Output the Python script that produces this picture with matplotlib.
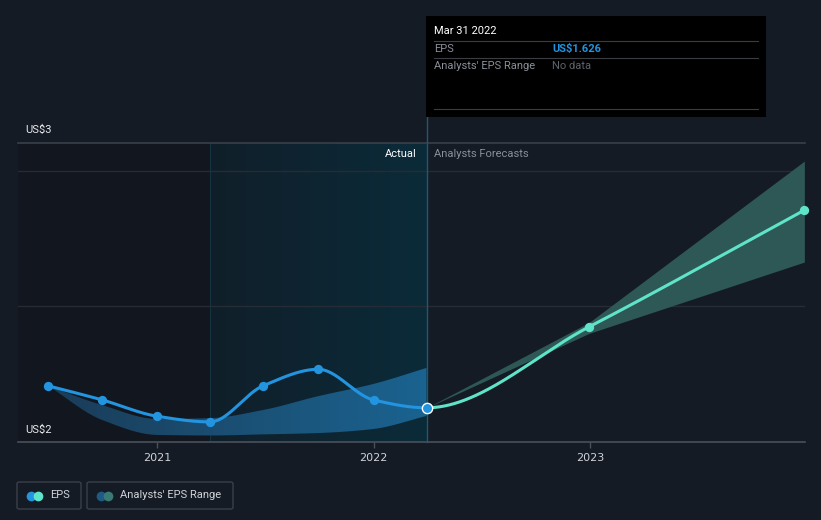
import numpy as np
import matplotlib
matplotlib.use("Agg")
import matplotlib.pyplot as plt
from matplotlib.patches import Rectangle, FancyBboxPatch
from matplotlib.colors import LinearSegmentedColormap

# ---------------- data ----------------
eps_dates = [2020.497, 2020.747, 2021.0, 2021.245, 2021.49, 2021.745, 2022.0, 2022.245]
eps_values = [1.707, 1.655, 1.595, 1.574, 1.707, 1.768, 1.655, 1.626]

past_range_dates = [2020.497, 2020.747, 2021.0, 2021.245, 2021.49, 2021.745, 2022.0, 2022.245]
past_range_high = [1.707, 1.636, 1.585, 1.588, 1.618, 1.669, 1.714, 1.773]
past_range_low = [1.707, 1.581, 1.526, 1.524, 1.528, 1.533, 1.548, 1.596]

fc_dates = [2022.245, 2022.995, 2023.99]
fc_values = [1.626, 1.924, 2.354]
fc_high = [1.626, 1.94, 2.535]
fc_low = [1.626, 1.90, 2.163]

year_ticks = [2021, 2022, 2023]
year_labels = ["2021", "2022", "2023"]
y_top_label = "US$3"
y_bottom_label = "US$2"

# ---------------- helpers ----------------
def monotone(xs, ys, n=200):
    x = np.asarray(xs, float); y = np.asarray(ys, float)
    h = np.diff(x); d = np.diff(y) / h
    m = np.zeros_like(y)
    for i in range(1, len(y) - 1):
        if d[i - 1] * d[i] <= 0:
            m[i] = 0
        else:
            w1 = 2 * h[i] + h[i - 1]; w2 = h[i] + 2 * h[i - 1]
            m[i] = (w1 + w2) / (w1 / d[i - 1] + w2 / d[i])
    m[0] = d[0]; m[-1] = d[-1]
    xo, yo = [], []
    for i in range(len(x) - 1):
        t = np.linspace(0, 1, n, endpoint=(i == len(x) - 2))
        h00 = 2*t**3 - 3*t**2 + 1; h10 = t**3 - 2*t**2 + t
        h01 = -2*t**3 + 3*t**2; h11 = t**3 - t**2
        xo.append(x[i] + t * h[i])
        yo.append(h00*y[i] + h10*h[i]*m[i] + h01*y[i+1] + h11*h[i]*m[i+1])
    return np.concatenate(xo), np.concatenate(yo)

BG = "#151b25"
W, H = 821, 520
fig = plt.figure(figsize=(W/100, H/100), dpi=100, facecolor=BG)
L, R, B, T = 18, 805, 442, 143
ax = fig.add_axes([L/W, 1 - B/H, (R-L)/W, (B-T)/H])
ax.set_facecolor(BG)
x0 = 2021 + (L - 157) / 216.5
x1 = 2021 + (R - 157) / 216.5
ax.set_xlim(x0, x1)
ax.set_ylim(1.5, 1.5 + (B - T) / 271.4)
for s in ax.spines.values():
    s.set_visible(False)

x_split0 = past_range_dates[3]
x_now = eps_dates[-1]

# darker past region
ax.axvspan(x0, x_split0, color="#12161e", zorder=0, lw=0)
# highlight gradient region
grad = np.linspace(0, 1, 256).reshape(1, -1)
cm_hl = LinearSegmentedColormap.from_list("hl", ["#101f2a", "#0b2b39"])
ax.imshow(grad, extent=[x_split0, x_now, 1.5, ax.get_ylim()[1]], aspect="auto",
          cmap=cm_hl, zorder=0.5)
ax.axvline(x_split0, color="#17323f", lw=0.8, zorder=0.6)

# grid lines
for v in [2.0, 2.5]:
    ax.axhline(v, color="#262c36", lw=1, zorder=1)
ax.axhline(ax.get_ylim()[1], color="#3a404a", lw=1.2, zorder=1, clip_on=False)
ax.axhline(1.5, color="#4a505a", lw=1.2, zorder=1, clip_on=False)

# past range band with gradient
px, ph = monotone(past_range_dates, past_range_high)
_, pl = monotone(past_range_dates, past_range_low)
poly = ax.fill_between(px, pl, ph, color="none", lw=0)
cm_band = LinearSegmentedColormap.from_list("band", ["#1a3c58", "#1a6390"])
im = ax.imshow(grad, extent=[past_range_dates[0], x_now, 1.5, 1.8], aspect="auto",
               cmap=cm_band, zorder=2)
im.set_clip_path(poly.get_paths()[0], transform=ax.transData)

# forecast band
ax.fill_between(fc_dates, fc_low, fc_high, color="#2e5856", lw=0, zorder=2)

# EPS + forecast as one smooth curve, split at "now"
all_x = eps_dates + fc_dates[1:]
all_y = eps_values + fc_values[1:]
cx, cy = monotone(all_x, all_y)
past = cx <= x_now + 1e-9
fut = cx >= x_now - 1e-9
ax.plot(cx[past], cy[past], color="#2394df", lw=2.2, zorder=3, solid_capstyle="round")
ax.scatter(eps_dates[:-1], eps_values[:-1], s=45, color="#2394df", zorder=4, lw=0)
ax.plot(cx[fut], cy[fut], color="#5fe3c9", lw=2.2, zorder=3)
ax.scatter(fc_dates[1:], fc_values[1:], s=45, color="#5fe3c9", zorder=4, lw=0, clip_on=False)
ax.scatter([x_now], [eps_values[-1]], s=55, color="#2394df", edgecolor="white",
           lw=1.0, zorder=5)

# now line
ax.plot([x_now, x_now], [1.5, 1.5 + (B - 117) / 271.4], color="#1d5a70", lw=1,
        zorder=2.5, clip_on=False)

# ticks
ax.set_xticks(year_ticks)
ax.set_xticklabels(year_labels)
ax.tick_params(axis="x", colors="#4a505a", length=4, width=1, labelcolor="#d0d3d8",
               labelsize=8, pad=4)
ax.set_yticks([])

FONT = "Roboto"
def ftxt(x, y, s, **kw):
    kw.setdefault("family", FONT)
    fig.text(x / W, 1 - y / H, s, **kw)

ftxt(25, 130, y_top_label, color="#e8eaed", fontsize=8, va="center")
ftxt(25, 430, y_bottom_label, color="#e8eaed", fontsize=8, va="center")
ftxt(417, 154, "Actual", color="#ffffff", fontsize=8, va="center", ha="right")
ftxt(434, 154, "Analysts Forecasts", color="#8a8f98", fontsize=8, va="center")

# tooltip
fig.patches.append(Rectangle((426 / W, 1 - 117 / H), (766 - 426) / W, (117 - 16) / H,
                             transform=fig.transFigure, facecolor="#000000",
                             edgecolor="none", zorder=10))
for yy in [41, 58, 109]:
    fig.add_artist(plt.Line2D([434 / W, 758 / W], [1 - yy / H] * 2, color="#3a3d42",
                              lw=0.8, zorder=11))
ftxt(434, 31, "Mar 31 2022", color="#ffffff", fontsize=8, va="center", zorder=12)
ftxt(434, 49, "EPS", color="#8a8f98", fontsize=8, va="center", zorder=12)
ftxt(552, 49, "US$1.626", color="#2394df", fontsize=8, va="center", weight="bold", zorder=12)
ftxt(434, 66, "Analysts' EPS Range", color="#8a8f98", fontsize=8, va="center", zorder=12)
ftxt(552, 66, "No data", color="#5f636a", fontsize=8, va="center", zorder=12)

# legend
def legend_box(x0p, x1p, label, c1, c2):
    fig.patches.append(FancyBboxPatch((x0p / W, 1 - 509 / H), (x1p - x0p) / W, 27 / H,
                                      boxstyle="round,pad=0,rounding_size=0.003",
                                      transform=fig.transFigure, facecolor="none",
                                      edgecolor="#3a404a", lw=1))
    fig.add_artist(plt.Line2D([(x0p + 14) / W], [1 - 495.5 / H], marker="o", ms=7,
                              color=c1, mew=0, lw=0))
    fig.add_artist(plt.Line2D([(x0p + 21) / W], [1 - 495.5 / H], marker="o", ms=7,
                              color=c2, mew=0, lw=0))
    ftxt(x0p + 33, 495.5, label, color="#d0d3d8", fontsize=8, va="center")

legend_box(17, 81, "EPS", "#2394df", "#5fe3c9")
legend_box(87, 233, "Analysts' EPS Range", "#1e5a85", "#3a7a74")

fig.savefig("out.png", dpi=100, facecolor=BG)
